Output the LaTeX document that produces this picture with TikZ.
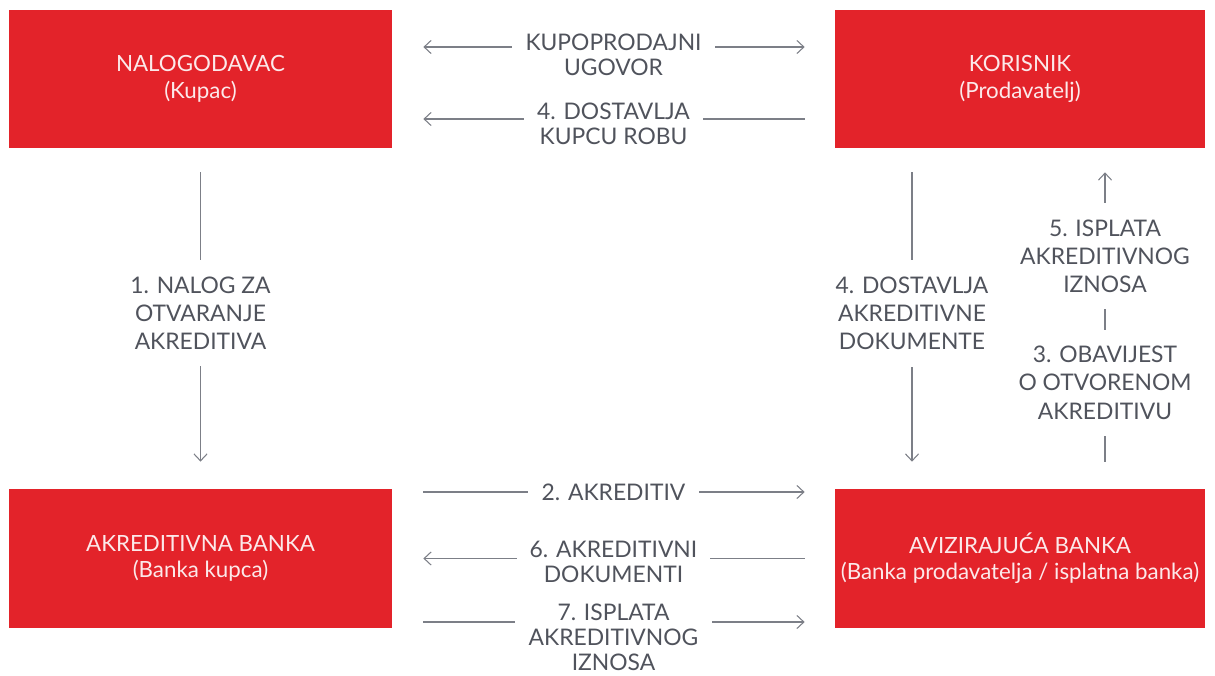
\documentclass[tikz,border=0pt]{standalone}
\usepackage{fontspec}
\setmainfont{Lato}
\usepackage{xcolor}
\usetikzlibrary{arrows.meta,positioning}
\definecolor{boxred}{HTML}{E3232A}
\definecolor{txtgray}{HTML}{50535C}
\definecolor{linegray}{HTML}{7C7F87}

\begin{document}
\begin{tikzpicture}[
  party/.style={rectangle,fill=boxred,text=white!90!boxred,align=center,font=\fontsize{12.7}{15}\selectfont},
  lbl/.style={fill=white,text=txtgray,align=center,inner sep=7.5pt,font=\fontsize{13}{14.3}\selectfont},
  vlbl/.style={lbl,inner ysep=9.5pt,font=\fontsize{13}{16}\selectfont},
  conn/.style={draw=linegray,line width=0.6pt,>={Straight Barb[length=4pt,width=7.5pt]}}
]
  \useasboundingbox (0,0) rectangle (24.3,13.5);
  \node[party,minimum width=7.66cm,minimum height=2.76cm] (nal) at (4.01,11.92) {NALOGODAVAC\\(Kupac)};
  \node[party,minimum width=7.4cm,minimum height=2.76cm]  (kor) at (20.4,11.92) {KORISNIK\\(Prodavatelj)};
  \node[party,minimum width=7.66cm,minimum height=2.78cm] (akb) at (4.01,2.33)  {AKREDITIVNA BANKA\\(Banka kupca)};
  \node[party,minimum width=7.4cm,minimum height=2.78cm]  (avb) at (20.4,2.33)  {AVIZIRAJUĆA BANKA\\(Banka prodavatelja / isplatna banka)};
  \draw[conn,<->,shorten <=0.62cm,shorten >=0.6cm] ([yshift=0.64cm]nal.east) -- node[lbl,yshift=-0.16cm] {KUPOPRODAJNI\\UGOVOR} ([yshift=0.64cm]kor.west);
  \draw[conn,->,shorten <=0.6cm,shorten >=0.62cm] ([yshift=-0.8cm]kor.west) -- node[lbl,yshift=-0.1cm] {4. DOSTAVLJA\\KUPCU ROBU} ([yshift=-0.8cm]nal.east);
  \draw[conn,->,shorten <=0.48cm,shorten >=0.54cm] (nal.south) -- node[vlbl,pos=0.485] {1. NALOG ZA\\OTVARANJE\\AKREDITIVA} (akb.north);
  \draw[conn,->,shorten <=0.48cm,shorten >=0.54cm] ([xshift=-2.16cm]kor.south) -- node[vlbl,pos=0.485] {4. DOSTAVLJA\\AKREDITIVNE\\DOKUMENTE} ([xshift=-2.16cm]avb.north);
  \draw[conn,->,shorten <=0.54cm,shorten >=0.48cm] ([xshift=1.7cm]avb.north) -- node[vlbl,pos=0.311] {3. OBAVIJEST\\O OTVORENOM\\AKREDITIVU} node[vlbl,pos=0.683] {5. ISPLATA\\AKREDITIVNOG\\IZNOSA} ([xshift=1.7cm]kor.south);
  \draw[conn,->,shorten <=0.62cm,shorten >=0.6cm] ([yshift=1.33cm]akb.east) -- node[lbl] {2. AKREDITIV} ([yshift=1.33cm]avb.west);
  \draw[conn,->,shorten <=0.6cm,shorten >=0.62cm] (avb.west) -- node[lbl,yshift=-0.06cm] {6. AKREDITIVNI\\DOKUMENTI} (akb.east);
  \draw[conn,->,shorten <=0.62cm,shorten >=0.6cm] ([yshift=-1.27cm]akb.east) -- node[lbl,yshift=-0.3cm] {7. ISPLATA\\AKREDITIVNOG\\IZNOSA} ([yshift=-1.27cm]avb.west);
\end{tikzpicture}
\end{document}
